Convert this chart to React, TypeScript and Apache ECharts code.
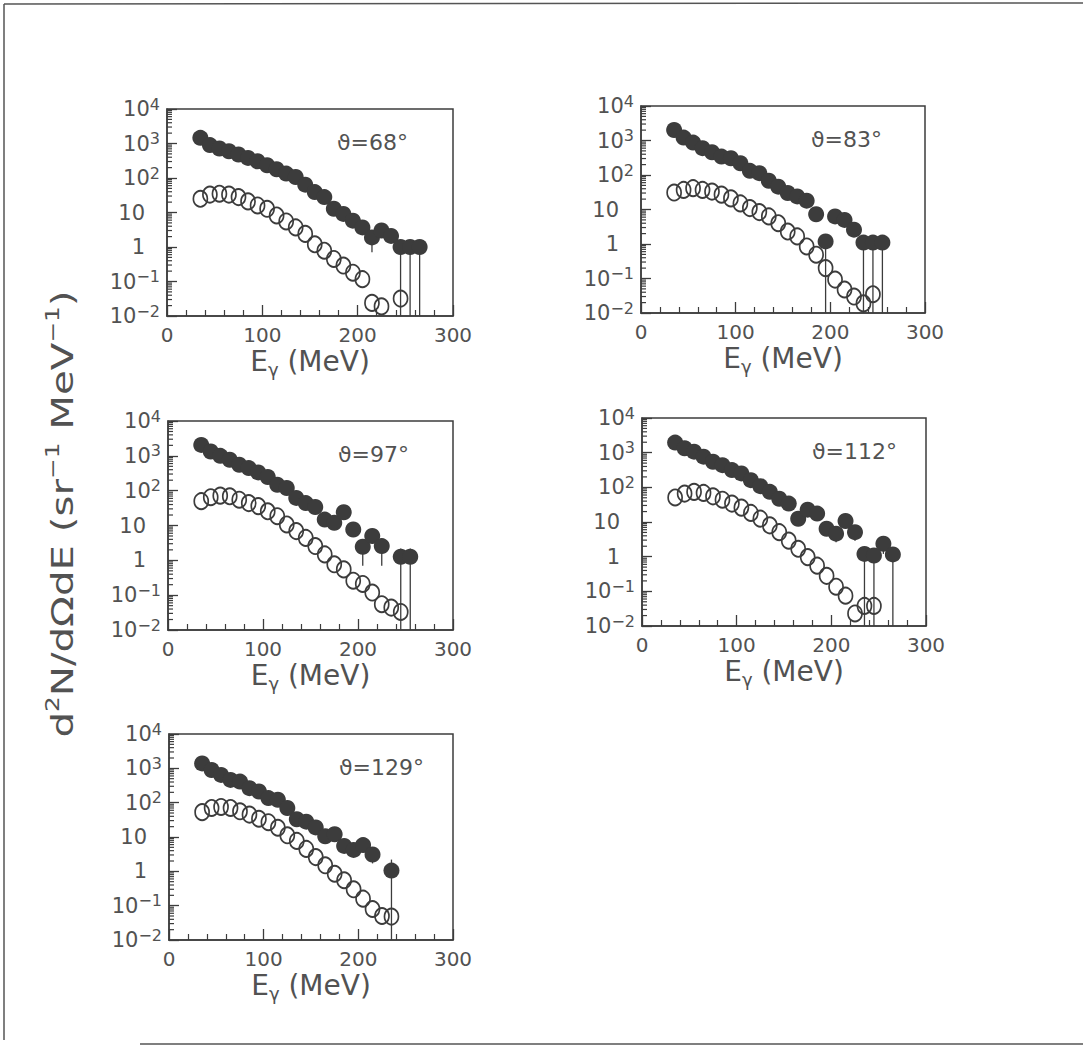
import React, { useEffect, useRef } from 'react';
import * as echarts from 'echarts';

// ---------- data ----------
const ENERGY = [35, 45, 55, 65, 75, 85, 95, 105, 115, 125, 135, 145, 155, 165, 175, 185, 195, 205, 215, 225, 235, 245, 255, 265];

const ANGLES = ['68', '83', '97', '112', '129'];

const FILLED_68 = [1460, 900, 714, 598, 480, 383, 306, 234, 179, 134, 107, 64, 39, 28, 12.8, 9.1, 5.8, 3.7, 1.9, 3.0, 2.1, 1.0, 1.0, 1.0];
const OPEN_68 = [25, 33, 35, 33, 28, 21, 16, 12.8, 8.2, 5.5, 3.7, 2.4, 1.2, 0.78, 0.45, 0.29, 0.18, 0.117, 0.024, 0.019, null, 0.032, null, null];
const ERR_68 = [[215, 0.7, 2.5], [245, 0.01, 1.0], [255, 0.01, 1.0], [265, 0.01, 1.0]];

const FILLED_83 = [2020, 1215, 870, 600, 457, 342, 306, 219, 132, 113, 68, 46, 30, 24, 18, 7.3, 1.19, 6.3, 5.0, 2.6, 1.1, 1.1, 1.1, null];
const OPEN_83 = [31, 37, 41.5, 37, 33, 27, 21, 15, 11, 8.4, 6.3, 4.0, 2.3, 1.66, 0.85, 0.49, 0.2, 0.093, 0.048, 0.03, 0.019, 0.035, null, null];
const ERR_83 = [[195, 0.01, 1.19], [235, 0.01, 1.1], [245, 0.01, 1.1], [255, 0.01, 1.1]];

const FILLED_97 = [2060, 1330, 1000, 770, 553, 445, 334, 246, 148, 119, 62, 44, 34, 14.8, 11.9, 24, 7.7, 2.46, 5.0, 2.57, null, 1.27, 1.27, null];
const OPEN_97 = [50, 65, 72, 69, 55, 44, 36, 25.6, 18.5, 10.7, 6.9, 4.4, 2.57, 1.48, 0.77, 0.55, 0.26, 0.21, 0.119, 0.055, 0.044, 0.033, null, null];
const ERR_97 = [[205, 0.7, 2.46], [225, 0.7, 2.57], [245, 0.01, 2.2], [255, 0.01, 2.2]];

const FILLED_112 = [1950, 1340, 1070, 766, 548, 437, 315, 252, 161, 108, 74, 47, 34, 12.4, 22.7, 17.5, 6.4, 4.6, 10.7, 5.1, 1.2, 1.08, 2.35, 1.16];
const OPEN_112 = [51, 66, 74, 69, 55, 44, 34, 26, 18.3, 12.5, 8, 5.1, 2.9, 1.69, 0.97, 0.55, 0.28, 0.136, 0.075, 0.023, 0.038, 0.038, null, null];
const ERR_112 = [[205, 2.6, 4.6], [225, 2.9, 5.1], [235, 0.01, 1.2], [245, 0.01, 1.08], [255, 1.2, 2.35], [265, 0.01, 1.16]];

const FILLED_129 = [1390, 895, 642, 460, 412, 265, 212, 136, 122, 70, 33, 28, 19, 10.5, 12, 5.5, 4.2, 5.8, 3.1, null, 1.05, null, null, null];
const OPEN_129 = [53, 70, 75, 70, 56, 45, 34, 27, 18.6, 11.2, 7.7, 4.5, 2.6, 1.5, 0.85, 0.55, 0.3, 0.16, 0.08, 0.05, 0.048, null, null, null];
const ERR_129 = [[165, 7, 10.5], [195, 3, 4.2], [215, 1.7, 3.1], [235, 0.01, 2.2]];

const FILLED = [FILLED_68, FILLED_83, FILLED_97, FILLED_112, FILLED_129];
const OPEN = [OPEN_68, OPEN_83, OPEN_97, OPEN_112, OPEN_129];
const ERRS = [ERR_68, ERR_83, ERR_97, ERR_112, ERR_129];

const X_TICKS = [0, 100, 200, 300];
const Y_DECADES = [-2, -1, 0, 1, 2, 3, 4];
const MINOR_MULT = [2, 3, 4, 5, 6, 7, 8, 9];

// ---------- layout / style ----------
const PANELS = [
  { left: 167, top: 109, width: 286, height: 207 },
  { left: 641, top: 106, width: 284, height: 207 },
  { left: 168, top: 421, width: 285, height: 209 },
  { left: 642, top: 418, width: 284, height: 208 },
  { left: 169, top: 734, width: 284, height: 206 },
];

const INK = '#3c3c3c';
const TEXT = '#525252';
const FONT = 'DejaVu Sans';

const minorValues: number[] = [];
Y_DECADES.slice(0, -1).forEach((d) => MINOR_MULT.forEach((m) => minorValues.push(m * Math.pow(10, d))));

function yLabel(v: number): string {
  const e = Math.round(Math.log10(v));
  if (e === 0) return '{b|1}{p| }';
  if (e === 1) return '{b|10}{p| }';
  return '{b|10}{e|' + (e < 0 ? '\u2212' + Math.abs(e) : String(e)) + '}';
}

export default function App() {
  const ref = useRef<HTMLDivElement>(null);
  useEffect(() => {
    if (!ref.current) return;
    const chart = echarts.init(ref.current, undefined, { renderer: 'svg' });

    const grids = PANELS.map((p) => ({
      ...p,
      show: true,
      borderColor: INK,
      borderWidth: 1.5,
      backgroundColor: 'transparent',
      containLabel: false,
    }));

    const xAxes = PANELS.map((_, i) => ({
      type: 'value',
      gridIndex: i,
      min: X_TICKS[0],
      max: X_TICKS[X_TICKS.length - 1],
      interval: 100,
      axisLine: { show: true, onZero: false, lineStyle: { color: INK, width: 1.5 } },
      axisTick: { show: true, inside: true, length: 11, lineStyle: { color: INK, width: 1.3 } },
      minorTick: { show: true, splitNumber: 5, length: 6, lineStyle: { color: INK, width: 1.2 } },
      splitLine: { show: false },
      minorSplitLine: { show: false },
      axisLabel: { color: TEXT, fontSize: 20, fontFamily: FONT, margin: 9 },
      name: '{a|E}{s|\u03b3}{a| (MeV)}',
      nameLocation: 'middle',
      nameGap: 28,
      nameTextStyle: {
        rich: {
          a: { fontSize: 28, lineHeight: 34, color: TEXT, fontFamily: FONT },
          s: { fontSize: 18, lineHeight: 14, verticalAlign: 'bottom', color: TEXT, fontFamily: FONT },
        },
      },
    }));

    const yAxes = PANELS.map((_, i) => ({
      type: 'log',
      logBase: 10,
      gridIndex: i,
      min: Math.pow(10, Y_DECADES[0]),
      max: Math.pow(10, Y_DECADES[Y_DECADES.length - 1]),
      splitNumber: 6,
      axisLine: { show: true, lineStyle: { color: INK, width: 1.5 } },
      axisTick: { show: true, inside: true, length: 10, lineStyle: { color: INK, width: 1.3 } },
      splitLine: { show: false },
      axisLabel: {
        margin: 7,
        formatter: yLabel,
        rich: {
          b: { fontSize: 21, lineHeight: 26, color: TEXT, fontFamily: FONT },
          e: { fontSize: 16, lineHeight: 14, verticalAlign: 'top', color: TEXT, fontFamily: FONT },
          p: { fontSize: 15, width: 15 },
        },
      },
    }));

    const series: any[] = [];
    PANELS.forEach((_, i) => {
      series.push({
        type: 'custom',
        xAxisIndex: i,
        yAxisIndex: i,
        silent: true,
        clip: false,
        data: minorValues.map((v) => [0, v]),
        encode: { x: 0, y: 1 },
        renderItem: (params: any, api: any) => {
          const cs = params.coordSys;
          const y = api.coord([0, api.value(1)])[1];
          return { type: 'line', shape: { x1: cs.x, y1: y, x2: cs.x + 5, y2: y }, style: { stroke: INK, lineWidth: 1.2 } };
        },
        z: 1,
      });
      series.push({
        type: 'custom',
        xAxisIndex: i,
        yAxisIndex: i,
        silent: true,
        data: ERRS[i],
        encode: { x: 0, y: [1, 2] },
        renderItem: (params: any, api: any) => {
          const x = api.value(0);
          const a = api.coord([x, api.value(1)]);
          const b = api.coord([x, api.value(2)]);
          return { type: 'line', shape: { x1: a[0], y1: a[1], x2: b[0], y2: b[1] }, style: { stroke: INK, lineWidth: 1.3 } };
        },
        z: 2,
      });
      series.push({
        type: 'scatter',
        xAxisIndex: i,
        yAxisIndex: i,
        symbol: 'circle',
        symbolSize: [14, 16],
        itemStyle: { color: 'rgba(0,0,0,0)', borderColor: INK, borderWidth: 1.8, opacity: 1 },
        data: ENERGY.map((e, k) => [e, OPEN[i][k]]).filter((d) => d[1] != null),
        z: 3,
      });
      series.push({
        type: 'scatter',
        xAxisIndex: i,
        yAxisIndex: i,
        symbol: 'circle',
        symbolSize: 16,
        itemStyle: { color: INK, opacity: 1 },
        data: ENERGY.map((e, k) => [e, FILLED[i][k]]).filter((d) => d[1] != null),
        z: 4,
      });
    });

    const graphic: any[] = [
      { type: 'line', shape: { x1: 4, y1: 4, x2: 1083, y2: 3 }, style: { stroke: '#555', lineWidth: 1.5 } },
      { type: 'line', shape: { x1: 4, y1: 4, x2: 4, y2: 1040 }, style: { stroke: '#555', lineWidth: 1.5 } },
      { type: 'line', shape: { x1: 140, y1: 1044, x2: 1083, y2: 1044 }, style: { stroke: '#555', lineWidth: 1.5 } },
      {
        type: 'text',
        x: 62,
        y: 514,
        rotation: Math.PI / 2,
        scaleX: 1.3,
        style: {
          text: 'd{s|2}N/d\u03a9dE (sr{s|\u22121} MeV{s|\u22121})',
          fontSize: 31,
          lineHeight: 38,
          fontFamily: FONT,
          fill: TEXT,
          align: 'center',
          verticalAlign: 'middle',
          rich: {
            s: { fontSize: 19, lineHeight: 19, verticalAlign: 'top', fill: TEXT, fontFamily: FONT },
          },
        },
      },
    ];
    PANELS.forEach((p, i) => {
      graphic.push({
        type: 'text',
        x: p.left + 170,
        y: p.top + 33,
        style: {
          text: '\u03d1=' + ANGLES[i] + '\u00b0',
          fontSize: 22,
          fontFamily: FONT,
          fill: TEXT,
          align: 'left',
          verticalAlign: 'middle',
        },
      });
    });

    chart.setOption({
      animation: false,
      backgroundColor: '#ffffff',
      grid: grids,
      xAxis: xAxes,
      yAxis: yAxes,
      series,
      graphic,
    });
    return () => chart.dispose();
  }, []);
  return <div ref={ref} style={{ position: 'fixed', left: 0, top: 0, width: 1083, height: 1047 }} />;
}
